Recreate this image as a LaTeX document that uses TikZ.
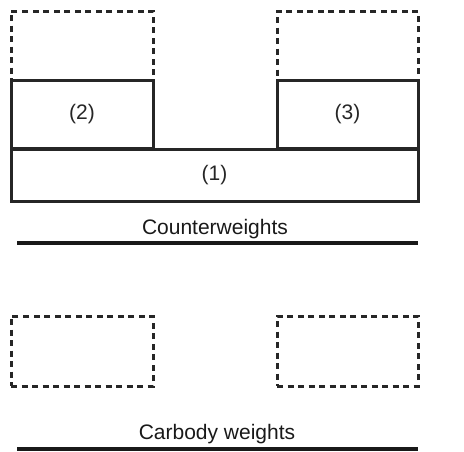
\documentclass[tikz,border=0pt]{standalone}
\usepackage{fontspec}
\setmainfont{Liberation Sans}
\usetikzlibrary{positioning}
\begin{document}
\begin{tikzpicture}[x=1pt, y=-1pt, font=\fontsize{21}{24}\selectfont,
  wbox/.style={draw=black!85, line width=3pt, anchor=north west, inner sep=0pt, outer sep=0pt, text=black!85},
  spare/.style={wbox, dash pattern=on 6pt off 4.5pt},
  baseline/.style={line width=3.2pt, black!90}]
\useasboundingbox (0,0) rectangle (464,451);
% counterweights
\node[spare, minimum width=142pt, minimum height=69pt] (cwspareL) at (11,11) {};
\node[spare, minimum width=141pt, minimum height=69pt] (cwspareR) at (277,11) {};
\node[wbox, minimum width=142pt, minimum height=68pt] (cw2) at (11,80) {(2)};
\node[wbox, minimum width=141pt, minimum height=68pt] (cw3) at (277,80) {(3)};
\node[wbox, minimum width=407pt, minimum height=52pt] (cw1) at (11,149) {(1)};
\node[text=black!90] (cwlabel) at (215,229) {Counterweights};
\coordinate (cwlineL) at (17,243);
\coordinate (cwlineR) at (418,243);
\draw[baseline] (cwlineL) -- (cwlineR);
% carbody weights
\node[spare, minimum width=142pt, minimum height=70pt] (cbspareL) at (11,316) {};
\node[spare, minimum width=141pt, minimum height=70pt] (cbspareR) at (277,316) {};
\node[text=black!90] (cblabel) at (217,434) {Carbody weights};
\coordinate (cblineL) at (17,449);
\coordinate (cblineR) at (418,449);
\draw[baseline] (cblineL) -- (cblineR);
\end{tikzpicture}
\end{document}
